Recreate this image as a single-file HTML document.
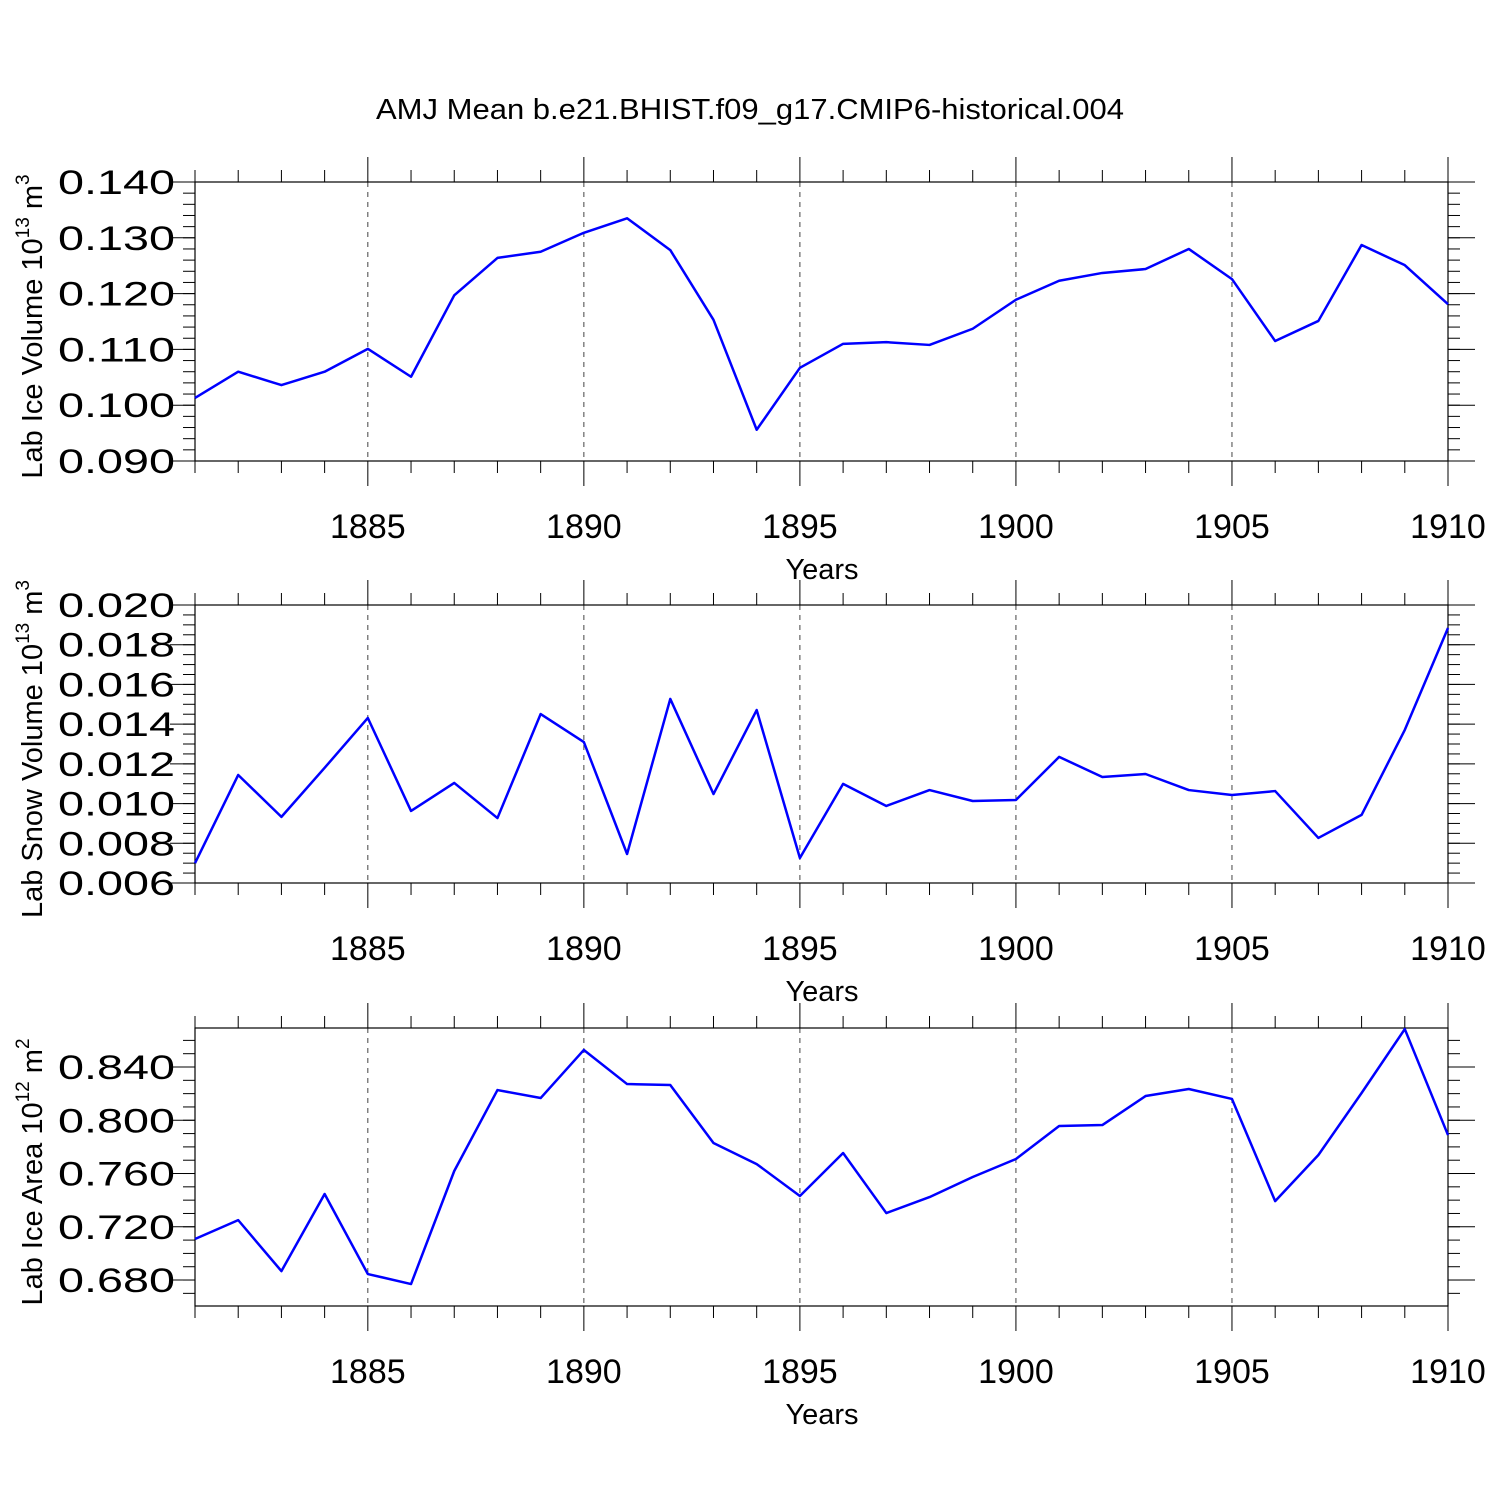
<!DOCTYPE html>
<html><head><meta charset="utf-8"><style>
body{margin:0;background:#fff}
svg{display:block;font-family:"Liberation Sans",Arial,sans-serif}
</style></head><body>
<svg id="c" width="1500" height="1500" viewBox="0 0 1500 1500">
<rect width="1500" height="1500" fill="#fff"/>
<text x="376" y="119" font-size="29" textLength="748" lengthAdjust="spacingAndGlyphs">AMJ Mean b.e21.BHIST.f09_g17.CMIP6-historical.004</text>
</svg>
<script>
const years = [1881,1882,1883,1884,1885,1886,1887,1888,1889,1890,1891,1892,1893,1894,1895,1896,1897,1898,1899,1900,1901,1902,1903,1904,1905,1906,1907,1908,1909,1910];
const iceVolume = [0.1013,0.1060,0.1036,0.1060,0.1101,0.1051,0.1197,0.1264,0.1275,0.1309,0.1335,0.1278,0.1153,0.0956,0.1067,0.1110,0.1113,0.1108,0.1137,0.1189,0.1223,0.1237,0.1244,0.1280,0.1226,0.1115,0.1151,0.1287,0.1251,0.1181];
const snowVolume = [0.0070,0.01144,0.00933,0.0118,0.01431,0.00963,0.01104,0.00927,0.01451,0.0131,0.00746,0.01527,0.01048,0.01471,0.00726,0.01099,0.00988,0.01068,0.01013,0.01018,0.01235,0.01134,0.01149,0.01068,0.01043,0.01063,0.00827,0.00943,0.01371,0.01884];
const iceArea = [0.7108,0.7250,0.6867,0.7446,0.6845,0.6770,0.7619,0.8227,0.8167,0.8528,0.8272,0.8265,0.7829,0.7671,0.7431,0.7754,0.7303,0.7423,0.7574,0.7709,0.7957,0.7964,0.8182,0.8235,0.8160,0.7393,0.7739,0.8205,0.8685,0.7889];
const xTickLabels = [1885,1890,1895,1900,1905,1910];
const iceVolTicks = [0.090,0.100,0.110,0.120,0.130,0.140];
const snowTicks = [0.006,0.008,0.010,0.012,0.014,0.016,0.018,0.020];
const areaTicks = [0.680,0.720,0.760,0.800,0.840];

const NS="http://www.w3.org/2000/svg", svg=document.getElementById('c');
function mk(tag,attrs,parent){const e=document.createElementNS(NS,tag);for(const k in attrs)e.setAttribute(k,attrs[k]);(parent||svg).appendChild(e);return e;}
const X0=195,X1=1448;
const xs=v=>X0+(v-1881)/(1910-1881)*(X1-X0);

function panel(p){
  const g=mk('g',{});
  
  
  const ys=v=>p.bot-(v-p.ymin)/(p.ymax-p.ymin)*(p.bot-p.top);
  xTickLabels.forEach(y=>{if(y<1910){const l=mk('line',{x1:xs(y),x2:xs(y),y1:p.top,y2:p.bot,stroke:'#444','stroke-width':1,'stroke-dasharray':'5,5'},g);
    }});
  for(let y=1881;y<=1910;y++){
    const maj=(y%5===0), len=maj?25:12;
    mk('line',{x1:xs(y),x2:xs(y),y1:p.top-len,y2:p.top,stroke:'#000','stroke-width':1},g);
    mk('line',{x1:xs(y),x2:xs(y),y1:p.bot,y2:p.bot+len,stroke:'#000','stroke-width':1},g);
  }
  const start=p.ticks[0]-p.minor*Math.floor((p.ticks[0]-p.ymin)/p.minor+1e-6);
  for(let v=start; v<=p.ymax+1e-9; v+=p.minor){
    const y=ys(v);
    mk('line',{x1:X0-12,x2:X0,y1:y,y2:y,stroke:'#000','stroke-width':1},g);
    mk('line',{x1:X1,x2:X1+12,y1:y,y2:y,stroke:'#000','stroke-width':1},g);
  }
  p.ticks.forEach(v=>{
    const y=ys(v);
    mk('line',{x1:X0-25,x2:X0,y1:y,y2:y,stroke:'#000','stroke-width':1},g);
    mk('line',{x1:X1,x2:X1+27,y1:y,y2:y,stroke:'#000','stroke-width':1},g);
    const t=mk('text',{x:58,y:y+12,'font-size':34,textLength:117,lengthAdjust:'spacingAndGlyphs'},g);t.textContent=v.toFixed(3);
    
  });
  xTickLabels.forEach(y=>{const t=mk('text',{x:xs(y),y:p.bot+77,'font-size':34,'text-anchor':'middle'},g);t.textContent=y;
    });
  const xt=mk('text',{x:822,y:p.bot+118,'font-size':29,'text-anchor':'middle'},g);xt.textContent='Years';
  
  const yt=mk('text',{transform:`translate(42,${(p.top+p.bot)/2+5}) rotate(-90)`,'font-size':29,'text-anchor':'middle'},g);
  yt.innerHTML=p.label+' 10<tspan dy="-13" font-size="19">'+p.exp+'</tspan><tspan dy="13"> m</tspan><tspan dy="-13" font-size="19">'+p.unit+'</tspan>';
  
  const fr=mk('rect',{x:X0,y:p.top,width:X1-X0,height:p.bot-p.top,fill:'none',stroke:'#000','stroke-width':1.2},g);
  
  const line=mk('polyline',{points:p.data.map((v,i)=>xs(years[i])+','+ys(v)).join(' '),fill:'none',stroke:'#0000ff','stroke-width':2.5,'stroke-linejoin':'round'},g);
  
}
panel({name:'ice-volume-panel',top:182,bot:461,ymin:0.090,ymax:0.140,minor:0.002,ticks:iceVolTicks,data:iceVolume,label:'Lab Ice Volume',exp:'13',unit:'3'});
panel({name:'snow-volume-panel',top:605,bot:883,ymin:0.006,ymax:0.020,minor:0.0005,ticks:snowTicks,data:snowVolume,label:'Lab Snow Volume',exp:'13',unit:'3'});
panel({name:'ice-area-panel',top:1028,bot:1306,ymin:0.6605,ymax:0.8693,minor:0.01,ticks:areaTicks,data:iceArea,label:'Lab Ice Area',exp:'12',unit:'2'});
</script>
</body></html>
